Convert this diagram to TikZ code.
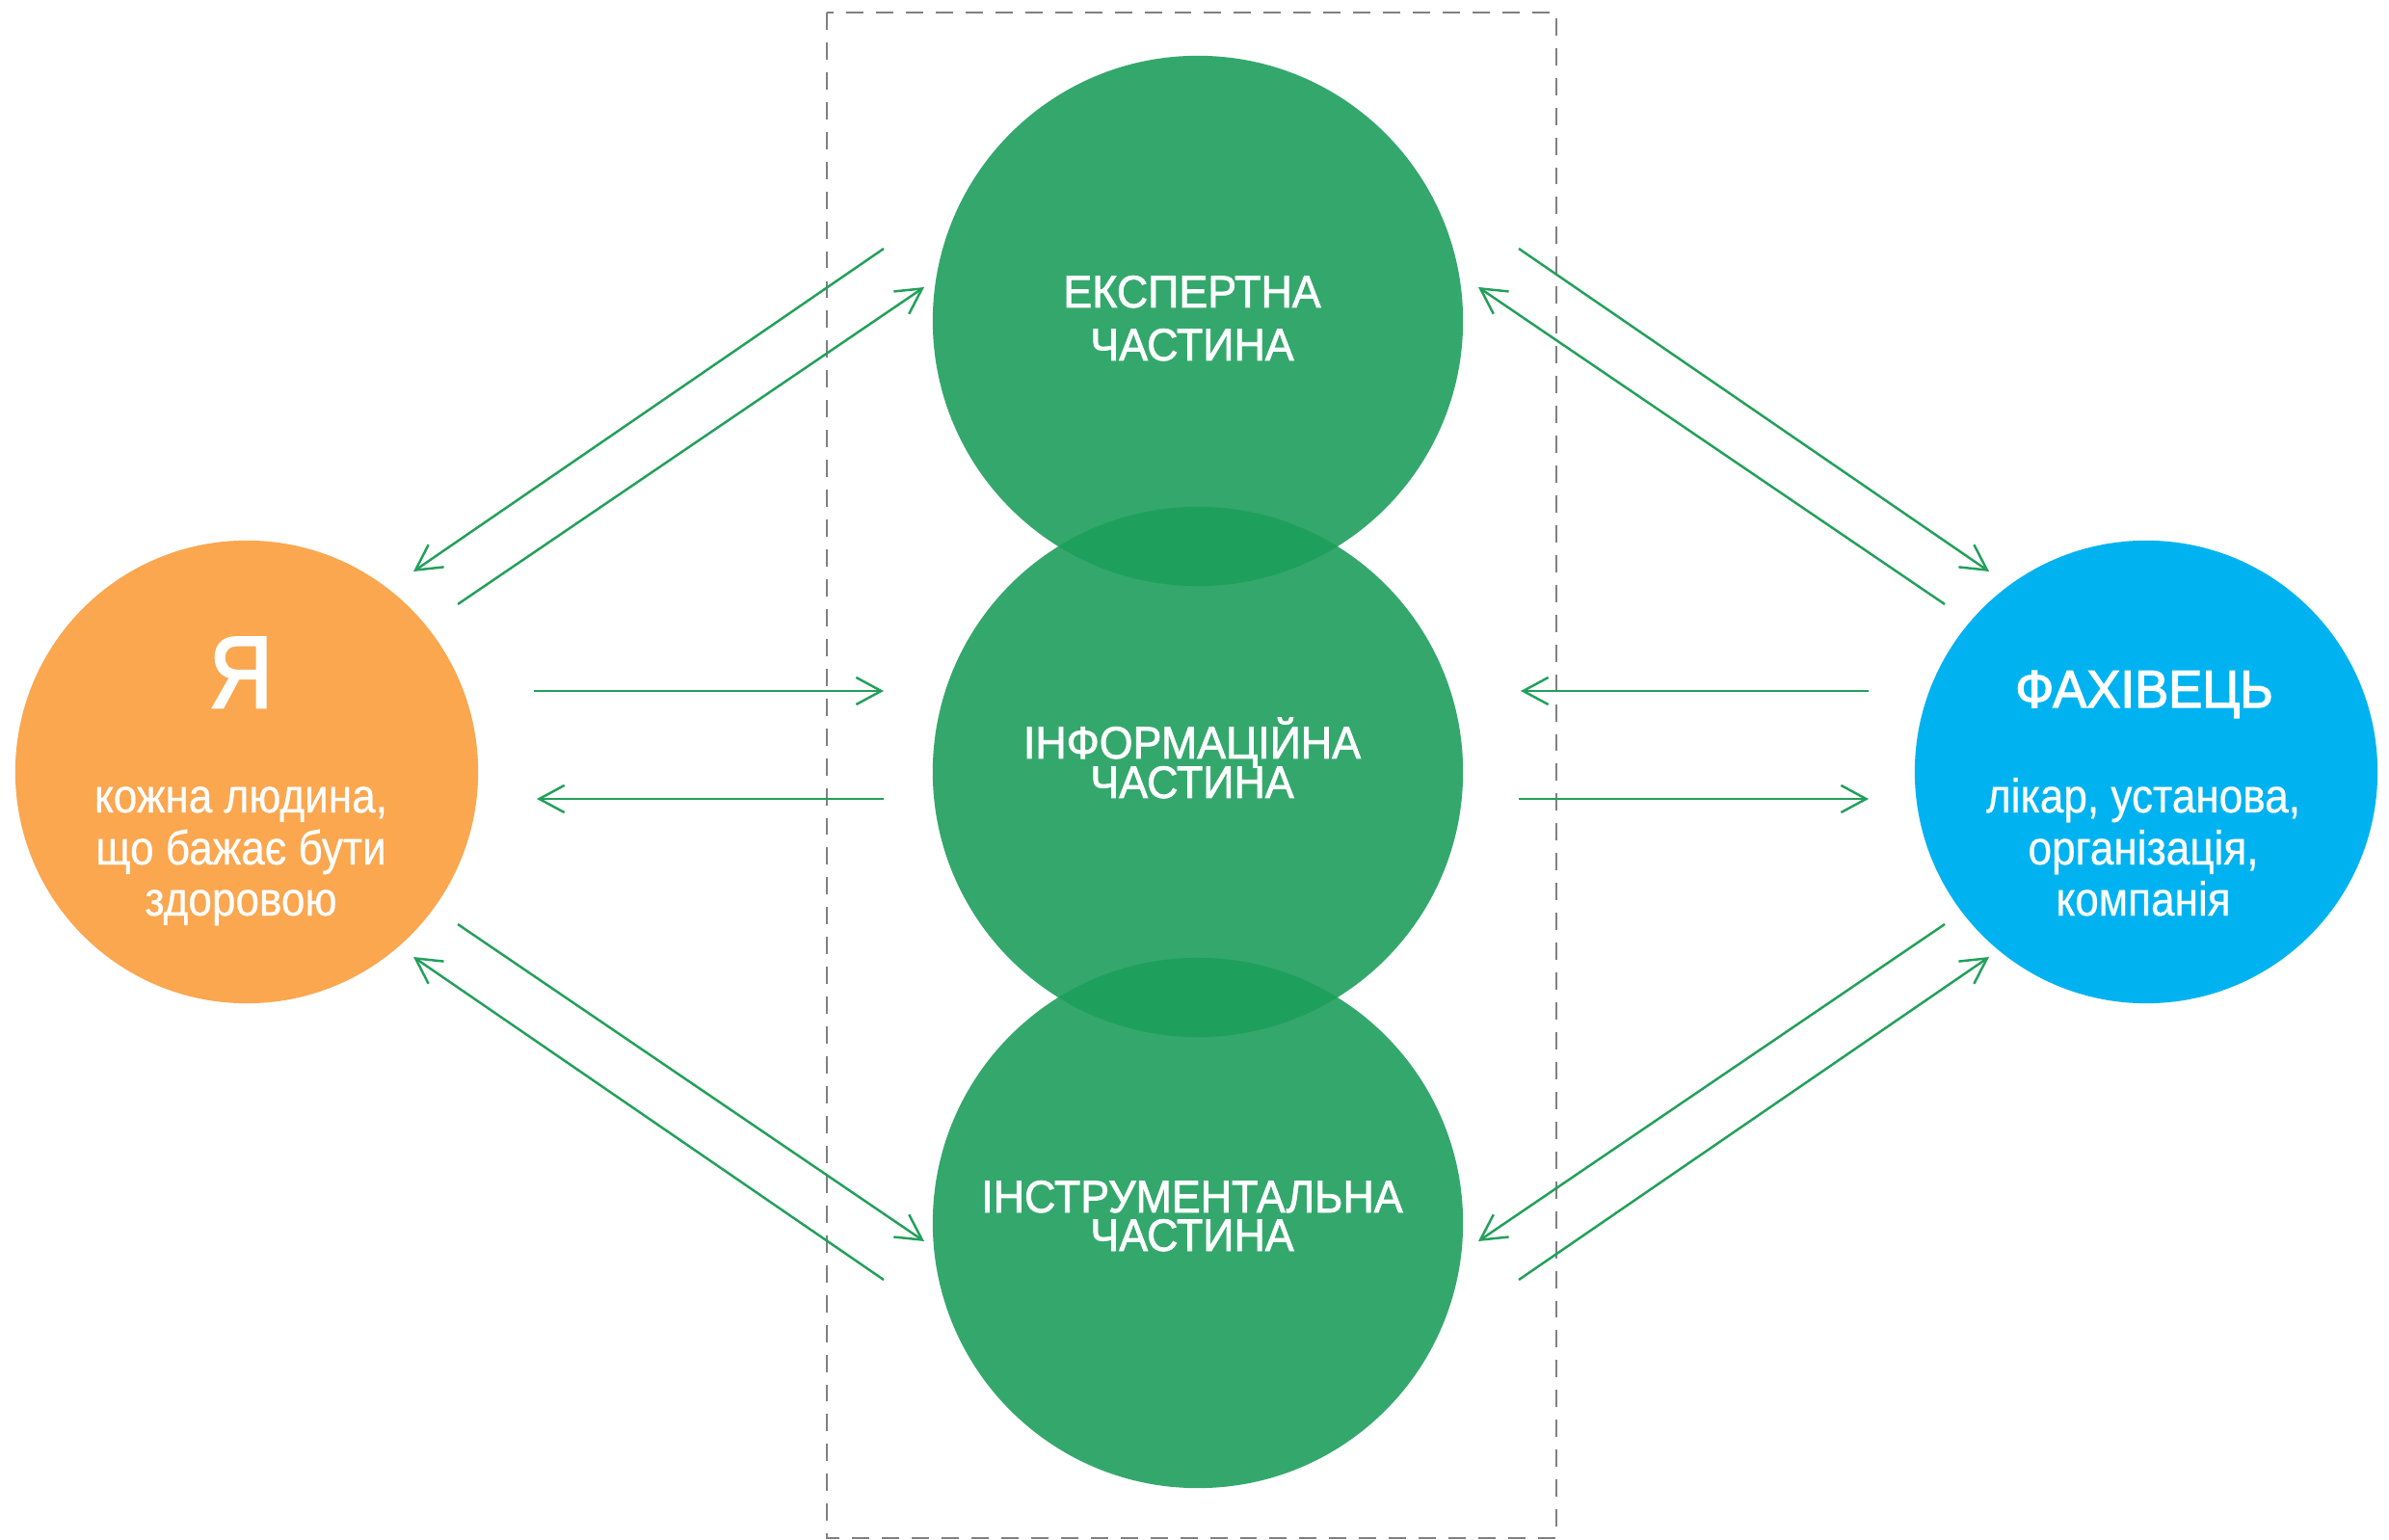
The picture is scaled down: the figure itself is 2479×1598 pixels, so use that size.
\documentclass[tikz,border=0pt]{standalone}
\usepackage{fontspec}
\setmainfont{Liberation Sans}
\newfontfamily\condfont[FakeStretch=0.95,FakeBold=1.6]{Liberation Sans}
\newfontfamily\subfont[FakeStretch=0.89,FakeBold=0.5]{Liberation Sans}
\newfontfamily\namefont[FakeStretch=0.86,FakeBold=2.5]{Liberation Sans}
\newfontfamily\profont[FakeStretch=0.96,FakeBold=2.2]{Liberation Sans}
\usetikzlibrary{arrows.meta}
\definecolor{orangeC}{RGB}{250,167,80}
\definecolor{blueC}{RGB}{0,179,240}
\definecolor{greenC}{RGB}{52,168,108}
\definecolor{greenD}{RGB}{31,159,92}
\definecolor{arrowC}{RGB}{34,160,90}
\definecolor{dashC}{RGB}{128,128,128}
\begin{document}
\begin{tikzpicture}[x=0.01cm,y=-0.01cm,
  blob/.style={circle,inner sep=0pt,minimum size=#1},
  txt/.style={text=white,inner sep=0pt,anchor=base},
  bigname/.style={txt,font=\namefont\fontsize{30}{36}\selectfont},
  proname/.style={txt,font=\profont\fontsize{15.6}{19}\selectfont},
  sub/.style={txt,font=\subfont\fontsize{14.1}{16}\selectfont},
  part/.style={txt,font=\condfont\fontsize{13.4}{16}\selectfont},
  link/.style={draw=arrowC,line width=0.7pt,-{Straight Barb[length=7.4pt,width=8pt]}},
  frame/.style={draw=dashC,line width=0.7pt,dash pattern=on 5.1pt off 3.7pt}]
\useasboundingbox (0,0) rectangle (2479,1598);
\fill[white] (0,0) rectangle (2479,1598);

% dashed frame
\draw[frame] (858,13) rectangle (1615,1596);

% circles
\node[blob=4.8cm,fill=orangeC] (me) at (256,801) {};
\node[blob=4.8cm,fill=blueC] (pro) at (2227,801) {};
\node[blob=5.5cm,fill=greenC] (exp) at (1243,333) {};
\node[blob=5.5cm,fill=greenC] (inf) at (1243,801) {};
\node[blob=5.5cm,fill=greenC] (ins) at (1243,1269) {};
\begin{scope}
  \clip (exp.center) circle[radius=2.75cm];
  \fill[greenD] (inf.center) circle[radius=2.75cm];
\end{scope}
\begin{scope}
  \clip (ins.center) circle[radius=2.75cm];
  \fill[greenD] (inf.center) circle[radius=2.75cm];
\end{scope}

% texts
\node[bigname] (meT) at (250,734) {Я};
\node[sub] (me1) at (250,843) {кожна людина,};
\node[sub] (me2) at (250,897) {що бажає бути};
\node[sub] (me3) at (250,950) {здоровою};

\node[proname] (proT) at (2225,734) {ФАХІВЕЦЬ};
\node[sub] (pro1) at (2224,843) {лікар, установа,};
\node[sub] (pro2) at (2224,897) {організація,};
\node[sub] (pro3) at (2224,950) {компанія};

\node[part] (exp1) at (1237,319) {ЕКСПЕРТНА};
\node[part] (exp2) at (1237,374) {ЧАСТИНА};
\node[part] (inf1) at (1237,787) {ІНФОРМАЦІЙНА};
\node[part] (inf2) at (1237,828) {ЧАСТИНА};
\node[part] (ins1) at (1237,1258) {ІНСТРУМЕНТАЛЬНА};
\node[part] (ins2) at (1237,1298) {ЧАСТИНА};

% arrow end points
\coordinate (a1s) at (917,258);  \coordinate (a1e) at (429,593);
\coordinate (a2s) at (475,627);  \coordinate (a2e) at (959,298);
\coordinate (b1s) at (1576,258); \coordinate (b1e) at (2064,593);
\coordinate (b2s) at (2018,627); \coordinate (b2e) at (1534,298);
\coordinate (c1s) at (554,717);  \coordinate (c1e) at (917,717);
\coordinate (c2s) at (917,829);  \coordinate (c2e) at (557,829);
\coordinate (d1s) at (1939,717); \coordinate (d1e) at (1578,717);
\coordinate (d2s) at (1576,829); \coordinate (d2e) at (1939,829);
\coordinate (e1s) at (475,959);  \coordinate (e1e) at (959,1288);
\coordinate (e2s) at (917,1328); \coordinate (e2e) at (429,993);
\coordinate (f1s) at (2018,959); \coordinate (f1e) at (1534,1288);
\coordinate (f2s) at (1576,1328);\coordinate (f2e) at (2064,993);

\foreach \p in {a1,a2,b1,b2,c1,c2,d1,d2,e1,e2,f1,f2}
  \draw[link] (\p s) -- (\p e);
\end{tikzpicture}
\end{document}
